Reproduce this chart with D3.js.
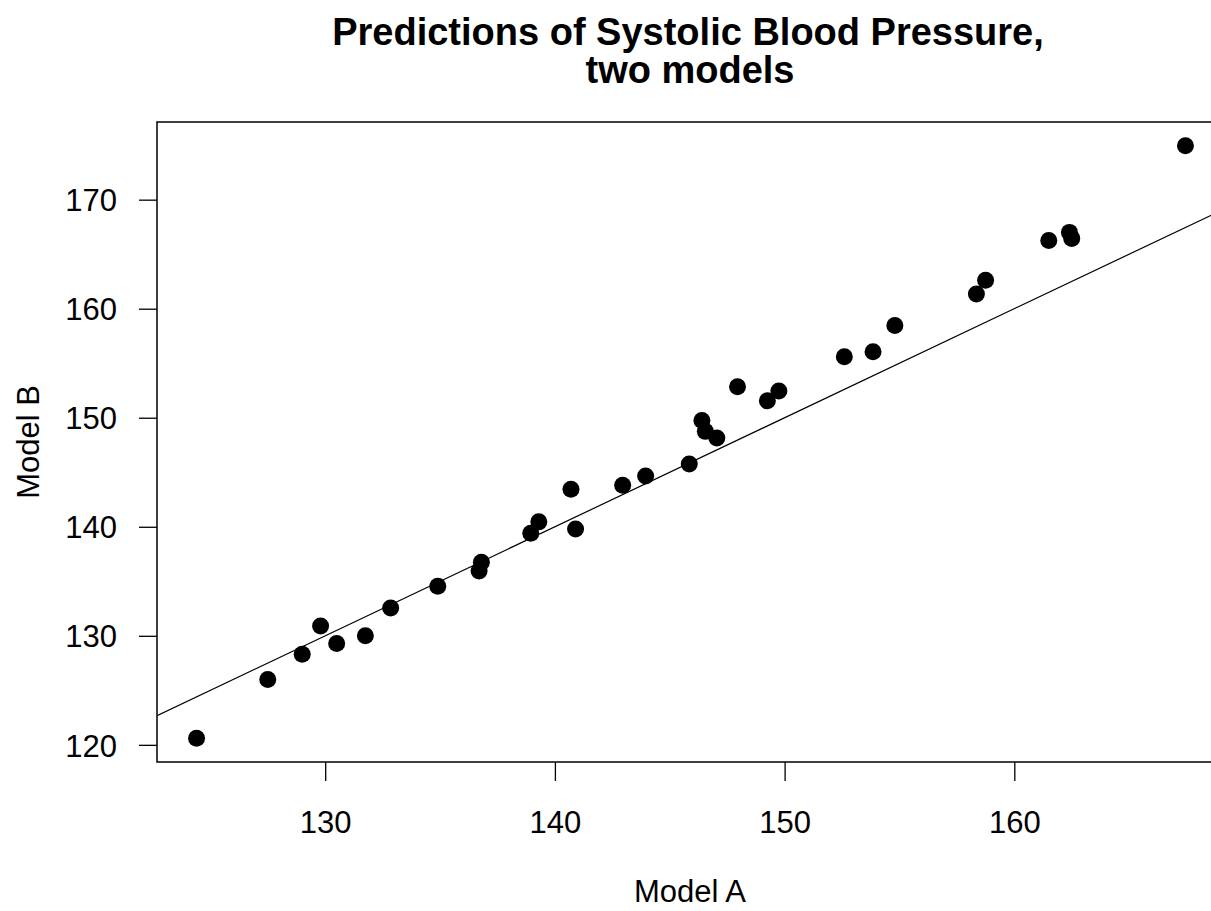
<!DOCTYPE html>
<html>
<head>
<meta charset="utf-8">
<script src="https://cdn.jsdelivr.net/npm/d3@7"></script>
<style>
  body { margin: 0; background: #fff; }
  text { font-family: "Liberation Sans", Arial, sans-serif; fill: #000; }
</style>
</head>
<body>
<div id="chart"></div>
<script>
// predictions from the two models
var modelA = [124.4, 127.5, 129.0, 129.8, 130.5, 131.75, 132.85, 134.9, 136.7, 136.8,
  138.95, 139.3, 140.7, 140.9, 142.95, 143.95, 145.85, 146.4, 146.55, 147.05,
  147.95, 149.25, 149.75, 152.6, 153.85, 154.8, 158.35, 158.75, 161.5, 162.4,
  162.5, 167.45];
var modelB = [120.6, 126.0, 128.3, 130.9, 129.3, 130.0, 132.55, 134.55, 135.95, 136.75,
  139.4, 140.45, 143.45, 139.8, 143.8, 144.65, 145.75, 149.75, 148.75, 148.15,
  152.85, 151.55, 152.45, 155.6, 156.05, 158.45, 161.35, 162.6, 166.25, 167.0,
  166.45, 174.95];
var xTicks = [130, 140, 150, 160];
var yTicks = [120, 130, 140, 150, 160, 170];

var width = 1211, height = 911;
// plot region, right edge runs past the window like in the original
var margin = { top: 122, right: -14, bottom: 149, left: 157 };
var innerW = width - margin.left - margin.right;
var innerH = height - margin.top - margin.bottom;

var data = modelA.map(function(d, i) {
  return { a: d, b: modelB[i] };
});

// R style: pad the data range by 4% each side
function padded(ext) {
  var p = (ext[1] - ext[0]) * 0.04;
  return [ext[0] - p, ext[1] + p];
}
var x = d3.scaleLinear().domain(padded(d3.extent(modelA))).range([0, innerW]);
var y = d3.scaleLinear().domain(padded(d3.extent(modelB))).range([innerH, 0]);

var svg = d3.select('#chart').append('svg')
  .attr('width', width)
  .attr('height', height)
  .style('display', 'block');

// title
var title = svg.append('text')
  .attr('x', 688)
  .attr('y', 45)
  .attr('text-anchor', 'middle')
  .style('font-size', '38px')
  .style('font-weight', 'bold');
title.append('tspan').attr('x', 688).text('Predictions of Systolic Blood Pressure,');
title.append('tspan').attr('x', 690).attr('dy', 38).text('two models');

var g = svg.append('g')
  .attr('transform', 'translate(' + margin.left + ',' + margin.top + ')');

g.append('clipPath').attr('id', 'plotclip')
  .append('rect').attr('width', innerW).attr('height', innerH);

// x axis
var xAxis = g.append('g')
  .attr('transform', 'translate(0,' + innerH + ')')
  .call(d3.axisBottom(x).tickValues(xTicks).tickSize(19).tickFormat(d3.format('d')));
xAxis.select('.domain').remove();
xAxis.selectAll('line').attr('stroke', '#000').attr('stroke-width', 1.3);
xAxis.selectAll('text')
  .attr('y', 71)
  .attr('dy', null)
  .style('font-size', '31px');

// y axis
var yAxis = g.append('g')
  .call(d3.axisLeft(y).tickValues(yTicks).tickSize(18).tickFormat(d3.format('d')));
yAxis.select('.domain').remove();
yAxis.selectAll('line').attr('stroke', '#000').attr('stroke-width', 1.3);
yAxis.selectAll('text')
  .attr('x', -40)
  .attr('dy', '0.36em')
  .style('font-size', '31px');

// reference line y = x
var lo = x.domain()[0], hi = x.domain()[1];
g.append('line')
  .attr('clip-path', 'url(#plotclip)')
  .attr('x1', x(lo)).attr('y1', y(lo))
  .attr('x2', x(hi)).attr('y2', y(hi))
  .attr('stroke', '#000')
  .attr('stroke-width', 1.2);

// points
g.selectAll('circle')
  .data(data)
  .enter().append('circle')
  .attr('cx', function(d) { return x(d.a); })
  .attr('cy', function(d) { return y(d.b); })
  .attr('r', 8.5)
  .attr('fill', '#000');

// box
g.append('rect')
  .attr('width', innerW)
  .attr('height', innerH)
  .attr('fill', 'none')
  .attr('stroke', '#000')
  .attr('stroke-width', 1.5);

// axis titles
svg.append('text')
  .attr('x', 690)
  .attr('y', 902)
  .attr('text-anchor', 'middle')
  .style('font-size', '31px')
  .text('Model A');

svg.append('text')
  .attr('transform', 'translate(39,442) rotate(-90)')
  .attr('text-anchor', 'middle')
  .style('font-size', '31px')
  .text('Model B');
</script>
</body>
</html>
